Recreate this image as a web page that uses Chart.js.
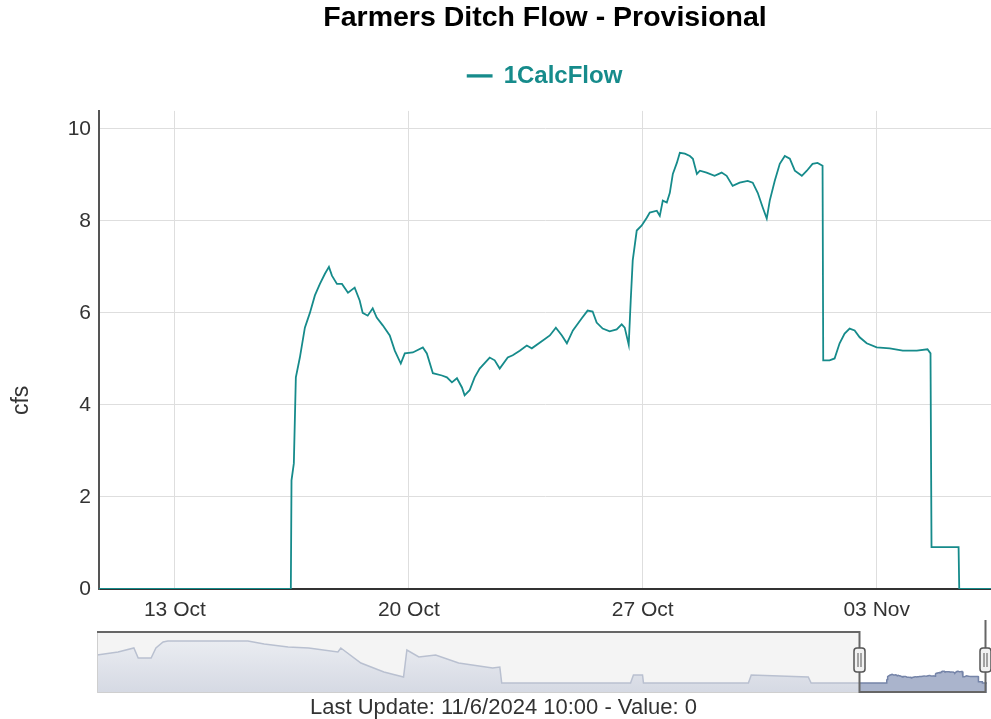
<!DOCTYPE html>
<html>
<head>
<meta charset="utf-8">
<title>Farmers Ditch Flow - Provisional</title>
<script src="https://cdn.jsdelivr.net/npm/chart.js@4.4.1/dist/chart.umd.min.js"></script>
<style>
  html, body { margin: 0; padding: 0; background: #fff; }
  #wrap { position: relative; width: 991px; height: 719px; overflow: hidden; }
  #mainChart { position: absolute; left: 0; top: 0; }
  #navChart { position: absolute; left: 0; top: 620px; }
  #lastUpdate {
    position: absolute; left: 8px; top: 694px; width: 991px;
    text-align: center; font: 22px "Liberation Sans", Arial, sans-serif;
    line-height: 26px; color: #333;
  }
</style>
</head>
<body>
<div id="wrap">
  <canvas id="mainChart" width="991" height="625"></canvas>
  <canvas id="navChart" width="991" height="80"></canvas>
  <div id="lastUpdate"></div>
</div>
<script>
// days are counted from 13 Oct 2024 00:00
const chartTitle = "Farmers Ditch Flow - Provisional";
const seriesName = "1CalcFlow";
const unitLabel = "cfs";
const lastUpdateText = "Last Update: 11/6/2024 10:00 - Value: 0";

const xTickDays = [0, 7, 14, 21];
const xTickLabels = ["13 Oct", "20 Oct", "27 Oct", "03 Nov"];
const yTicks = [0, 2, 4, 6, 8, 10];

const viewStart = -2.27;   // left edge of the zoomed window
const viewEnd = 24.42;     // 11/6/2024 10:00
const yMax = 10.39;

// 1CalcFlow, zoomed window
const flowDays = [
  -2.27, 3.47, 3.49, 3.56, 3.62, 3.74, 3.89, 4.04, 4.19, 4.34, 4.49, 4.61, 4.70, 4.85,
  5.00, 5.18, 5.38, 5.53, 5.62, 5.77, 5.92, 6.04, 6.22, 6.43, 6.58, 6.76, 6.88, 7.12,
  7.42, 7.54, 7.72, 7.99, 8.14, 8.29, 8.44, 8.59, 8.67, 8.82, 8.97, 9.12, 9.42, 9.57,
  9.72, 9.96, 10.11, 10.32, 10.53, 10.68, 11.01, 11.22, 11.40, 11.58, 11.73, 11.91,
  12.17, 12.35, 12.50, 12.62, 12.80, 13.01, 13.22, 13.37, 13.46, 13.58, 13.64, 13.70,
  13.82, 13.97, 14.12, 14.21, 14.42, 14.51, 14.60, 14.72, 14.81, 14.90, 15.02, 15.11,
  15.26, 15.41, 15.50, 15.62, 15.71, 15.91, 16.15, 16.36, 16.51, 16.69, 16.90, 17.14,
  17.29, 17.44, 17.59, 17.71, 17.80, 17.95, 18.10, 18.25, 18.40, 18.55, 18.76, 18.91,
  19.08, 19.23, 19.38, 19.40, 19.59, 19.74, 19.89, 20.04, 20.19, 20.34, 20.49, 20.70,
  21.00, 21.39, 21.78, 22.20, 22.52, 22.61, 22.64, 23.45, 23.47, 24.42
];
const flowValues = [
  0, 0, 2.36, 2.73, 4.6, 5.03, 5.68, 6.0, 6.38, 6.63, 6.85, 7.0, 6.81, 6.63,
  6.63, 6.44, 6.55, 6.27, 6.0, 5.94, 6.1, 5.9, 5.73, 5.51, 5.18, 4.9, 5.12, 5.14,
  5.25, 5.12, 4.69, 4.64, 4.6, 4.49, 4.58, 4.38, 4.21, 4.32, 4.6, 4.79, 5.03, 4.97,
  4.79, 5.03, 5.08, 5.18, 5.29, 5.23, 5.4, 5.51, 5.68, 5.51, 5.34, 5.62,
  5.88, 6.05, 6.03, 5.79, 5.66, 5.6, 5.64, 5.75, 5.68, 5.31, 6.27, 7.14,
  7.79, 7.9, 8.07, 8.18, 8.22, 8.11, 8.44, 8.4, 8.61, 9.02, 9.26, 9.48,
  9.46, 9.41, 9.35, 9.02, 9.09, 9.05, 8.98, 9.05, 8.98, 8.76, 8.83, 8.87,
  8.83, 8.61, 8.29, 8.05, 8.44, 8.87, 9.24, 9.41, 9.35, 9.09, 8.98, 9.09,
  9.24, 9.26, 9.2, 4.97, 4.97, 5.01, 5.34, 5.55, 5.66, 5.62, 5.47, 5.34,
  5.25, 5.23, 5.18, 5.18, 5.21, 5.12, 0.91, 0.91, 0, 0
];

// navigator: the season before the zoomed window
const navStart = -161.4;
const navMin = -8;
const navMax = 41.6;
const seasonDays = [
  -161.4, -157.0, -153.7, -152.8, -150.1, -149.1, -147.6, -146.6, -140.3, -134.9,
  -129.9, -126.5, -121.5, -117.2, -111.1, -110.5, -106.3, -101.5, -97.4, -96.7,
  -94.2, -90.7, -85.9, -78.8, -77.3, -76.9, -50.0, -49.4, -47.5, -47.3,
  -25.4, -24.8, -12.9, -12.3
];
const seasonValues = [
  22.4, 24.8, 28, 20, 20, 28, 32.8, 33.6, 33.6, 33.6,
  33.6, 31.2, 28.8, 28, 24.8, 28, 16, 8.8, 4.8, 26.4,
  20.8, 22.4, 16, 12, 12.8, 0, 0, 6.4, 6.4, 0,
  0, 6.4, 4.8, 0
];

const FONT = '"Liberation Sans", Arial, sans-serif';
const TEAL = "#168b8b";

const toPoints = (xs, ys) => xs.map((x, i) => ({ x, y: ys[i] }));

document.getElementById("lastUpdate").textContent = lastUpdateText;

// rotated axis title, placed like the original
const unitTitle = {
  id: "unitTitle",
  afterDraw(chart) {
    const { ctx } = chart;
    const y = chart.scales.y;
    ctx.save();
    ctx.translate(22, y.getPixelForValue(4.1));
    ctx.rotate(-Math.PI / 2);
    ctx.font = `23px ${FONT}`;
    ctx.fillStyle = "#333";
    ctx.textAlign = "center";
    ctx.textBaseline = "middle";
    ctx.fillText(unitLabel, 0, 0);
    ctx.restore();
  }
};

new Chart(document.getElementById("mainChart"), {
  type: "line",
  data: {
    datasets: [{
      label: seriesName,
      data: toPoints(flowDays, flowValues),
      borderColor: TEAL,
      backgroundColor: TEAL,
      borderWidth: 1.8,
      pointRadius: 0,
      tension: 0,
      fill: false
    }]
  },
  options: {
    responsive: false,
    animation: false,
    plugins: {
      title: {
        display: true,
        text: chartTitle,
        color: "#000",
        fullSize: false,
        font: { family: FONT, size: 28.5, weight: "bold", lineHeight: 1.2 },
        padding: { top: 1.5, bottom: 5.2 }
      },
      legend: {
        fullSize: false,
        labels: {
          color: TEAL,
          font: { family: FONT, size: 24, weight: "bold" },
          boxWidth: 24,
          boxHeight: 1.5,
          padding: 23
        }
      },
      tooltip: { enabled: false }
    },
    scales: {
      x: {
        type: "linear",
        min: viewStart,
        max: viewEnd,
        afterBuildTicks: s => { s.ticks = xTickDays.map(v => ({ value: v })); },
        afterFit: s => { s.height = 36; },
        grid: { color: "#dedede", drawTicks: false },
        border: { color: "#333", width: 2 },
        ticks: {
          autoSkip: false,
          maxRotation: 0,
          padding: 9,
          color: "#333",
          font: { family: FONT, size: 21 },
          callback: v => xTickLabels[xTickDays.indexOf(v)] ?? ""
        }
      },
      // empty top axis, keeps the gap between the legend and the plot
      gap: {
        type: "linear",
        position: "top",
        axis: "x",
        display: true,
        afterFit: s => { s.height = 13; },
        grid: { display: false, drawTicks: false },
        border: { display: false },
        ticks: { display: false }
      },
      y: {
        min: 0,
        max: yMax,
        afterBuildTicks: s => { s.ticks = yTicks.map(v => ({ value: v })); },
        afterFit: s => { s.width = 99; },
        grid: { color: "#dedede", drawTicks: false },
        border: { color: "#555", width: 2 },
        ticks: {
          padding: 8,
          color: "#333",
          font: { family: FONT, size: 21 }
        }
      }
    }
  },
  plugins: [unitTitle]
});

// navigator below the plot
const navBackground = {
  id: "navBackground",
  beforeDatasetsDraw(chart) {
    const { ctx, chartArea: a } = chart;
    const x = chart.scales.x;
    const wl = x.getPixelForValue(viewStart);
    const wr = x.getPixelForValue(viewEnd);
    ctx.save();
    ctx.fillStyle = "#f4f4f4";
    ctx.fillRect(a.left, a.top, wl - a.left, a.bottom - a.top);
    ctx.fillStyle = "#ffffff";
    ctx.fillRect(wl, a.top, wr - wl, a.bottom - a.top);
    ctx.restore();
  },
  afterDatasetsDraw(chart) {
    const { ctx, chartArea: a } = chart;
    const x = chart.scales.x;
    const wl = Math.round(x.getPixelForValue(viewStart)) + 0.5;
    const wr = Math.round(x.getPixelForValue(viewEnd)) - 1.5;
    ctx.save();
    // light frame
    ctx.strokeStyle = "#cfcfcf";
    ctx.lineWidth = 1;
    ctx.beginPath();
    ctx.moveTo(a.left + 0.5, a.top);
    ctx.lineTo(a.left + 0.5, a.bottom - 0.5);
    ctx.lineTo(wl, a.bottom - 0.5);
    ctx.stroke();
    // outline around the selected window
    ctx.strokeStyle = "#666";
    ctx.lineWidth = 2;
    ctx.beginPath();
    ctx.moveTo(a.left, a.top + 1);
    ctx.lineTo(wl, a.top + 1);
    ctx.lineTo(wl, a.bottom - 1);
    ctx.lineTo(wr, a.bottom - 1);
    ctx.lineTo(wr, a.top - 12);
    ctx.stroke();
    // handles
    const hy = (a.top + a.bottom) / 2 - 2;
    [wl, wr].forEach(hx => {
      ctx.fillStyle = "#f2f2f2";
      ctx.strokeStyle = "#555";
      ctx.lineWidth = 1.5;
      ctx.beginPath();
      ctx.roundRect(hx - 5.5, hy - 12, 11, 24, 3);
      ctx.fill();
      ctx.stroke();
      ctx.beginPath();
      ctx.moveTo(hx - 1.5, hy - 7); ctx.lineTo(hx - 1.5, hy + 7);
      ctx.moveTo(hx + 1.5, hy - 7); ctx.lineTo(hx + 1.5, hy + 7);
      ctx.lineWidth = 1;
      ctx.stroke();
    });
    ctx.restore();
  }
};

function seasonFill(ctx) {
  const a = ctx.chart.chartArea;
  if (!a) return "#dfe2ea";
  const g = ctx.chart.ctx.createLinearGradient(0, a.top, 0, a.bottom);
  g.addColorStop(0, "#eef0f4");
  g.addColorStop(1, "#d5d9e3");
  return g;
}

new Chart(document.getElementById("navChart"), {
  type: "line",
  data: {
    datasets: [
      {
        data: toPoints(seasonDays.concat([flowDays[0]]), seasonValues.concat([flowValues[0]])),
        borderColor: "#b9c0d0",
        backgroundColor: seasonFill,
        borderWidth: 1.5,
        pointRadius: 0,
        fill: "start"
      },
      {
        data: toPoints(flowDays, flowValues),
        borderColor: "#7584a8",
        backgroundColor: "rgba(118, 134, 172, 0.62)",
        borderWidth: 1.5,
        pointRadius: 0,
        fill: "start"
      }
    ]
  },
  options: {
    responsive: false,
    animation: false,
    layout: { padding: { left: 97, right: 4, top: 11, bottom: 7 } },
    plugins: {
      legend: { display: false },
      title: { display: false },
      tooltip: { enabled: false }
    },
    scales: {
      x: { type: "linear", display: false, min: navStart, max: viewEnd },
      y: { display: false, min: navMin, max: navMax }
    }
  },
  plugins: [navBackground]
});
</script>
</body>
</html>
